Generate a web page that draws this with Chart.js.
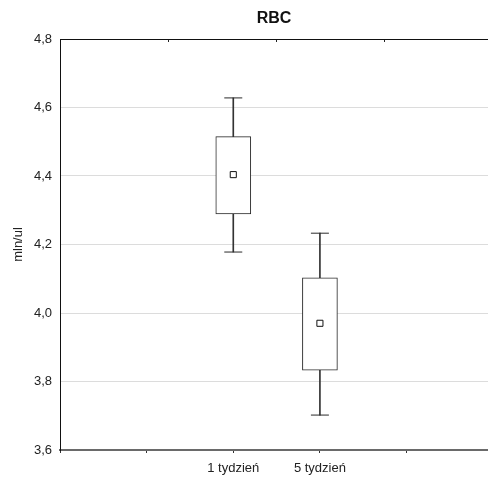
<!DOCTYPE html>
<html>
<head>
<meta charset="utf-8">
<script src="https://cdn.jsdelivr.net/npm/chart.js@4/dist/chart.umd.min.js"></script>
<style>
  html, body { margin: 0; padding: 0; background: #ffffff; }
  #wrap { width: 488px; height: 478px; }
</style>
</head>
<body>
<div id="wrap"><canvas id="c" width="488" height="478"></canvas></div>
<script>
// ---- data ----
const chartTitle = 'RBC';
const yAxisTitle = 'mln/ul';
const xTickLabels = ['', '', '1 tydzień', '5 tydzień', ''];
const categories = ['1 tydzień', '5 tydzień'];
const whiskerHigh = [4.628, 4.233];
const boxHigh = [4.515, 4.103];
const means = [4.404, 3.970];
const boxLow = [4.289, 3.833];
const whiskerLow = [4.178, 3.702];
const yTicks = [3.6, 3.8, 4.0, 4.2, 4.4, 4.6, 4.8];
const topTicks = [1.25, 2.5, 3.75];

const xPos = categories.map(c => xTickLabels.indexOf(c));
const FONT = "'Liberation Sans', Arial, sans-serif";
const INK = '#222222';

const boxData = xPos.map((x, i) => ({ x: x, y: [boxLow[i], boxHigh[i]] }));
const upperWhisker = xPos.map((x, i) => ({ x: x, y: [boxHigh[i], whiskerHigh[i]] }));
const lowerWhisker = xPos.map((x, i) => ({ x: x, y: [whiskerLow[i], boxLow[i]] }));
const caps = xPos.flatMap((x, i) => [{ x: x, y: whiskerHigh[i] }, { x: x, y: whiskerLow[i] }]);
const meanPts = xPos.map((x, i) => ({ x: x, y: means[i] }));

const xMax = 4.94;

new Chart(document.getElementById('c'), {
  data: {
    datasets: [
      { type: 'bar', data: upperWhisker, grouped: false, barThickness: 1, backgroundColor: '#333333', borderWidth: 0, order: 3 },
      { type: 'bar', data: lowerWhisker, grouped: false, barThickness: 1, backgroundColor: '#333333', borderWidth: 0, order: 3 },
      { type: 'bar', data: boxData, grouped: false, barThickness: 35, backgroundColor: '#ffffff', borderColor: '#2a2a2a', borderWidth: 1, borderSkipped: false, order: 2 },
      { type: 'scatter', data: caps, pointStyle: 'line', pointRadius: 9, pointBorderColor: '#2a2a2a', pointBorderWidth: 1, order: 1 },
      { type: 'scatter', data: meanPts, pointStyle: 'rect', pointRadius: 4.3, pointBackgroundColor: '#ffffff', pointBorderColor: '#111111', pointBorderWidth: 1, order: 0 }
    ]
  },
  options: {
    responsive: false,
    animation: false,
    layout: { padding: 0, autoPadding: false },
    plugins: { legend: { display: false }, tooltip: { enabled: false }, title: { display: false } },
    scales: {
      x: {
        type: 'linear',
        position: 'bottom',
        offset: false,
        min: 0,
        max: xMax,
        afterBuildTicks: s => { s.ticks = xTickLabels.map((_, i) => ({ value: i })); },
        afterFit: s => { s.height = 28; },
        grid: { display: true, offset: false, drawOnChartArea: false, drawTicks: true, tickLength: 3, color: '#333333' },
        border: { display: true, color: '#6a6a6a', width: 2 },
        ticks: {
          padding: 8,
          autoSkip: false,
          maxRotation: 0,
          color: INK,
          font: { family: FONT, size: 13 },
          callback: v => xTickLabels[Math.round(v)] || ''
        }
      },
      xTop: {
        type: 'linear',
        position: 'top',
        offset: false,
        min: 0,
        max: xMax,
        afterBuildTicks: s => { s.ticks = topTicks.map(v => ({ value: v })); },
        afterFit: s => { s.height = 39; },
        grid: { display: true, offset: false, drawOnChartArea: false, drawTicks: true, tickLength: -3, color: '#222222' },
        border: { display: true, color: '#111111', width: 1 },
        ticks: { display: false },
        title: { display: true, text: chartTitle, color: '#111111', font: { family: FONT, size: 16, weight: 'bold' }, padding: { top: 9, bottom: 0 } }
      },
      y: {
        type: 'linear',
        position: 'left',
        min: 3.6,
        max: 4.8,
        afterBuildTicks: s => { s.ticks = yTicks.map(v => ({ value: v })); },
        afterFit: s => { s.width = 60; },
        grid: { display: true, drawTicks: false, color: '#dcdcdc', lineWidth: 1 },
        border: { display: true, color: '#111111', width: 1 },
        ticks: {
          padding: 8,
          color: INK,
          font: { family: FONT, size: 13 },
          callback: v => Number(v).toFixed(1).replace('.', ',')
        },
        title: { display: true, text: yAxisTitle, color: INK, font: { family: FONT, size: 13 }, padding: { top: 11, bottom: 0 } }
      }
    }
  }
});
</script>
</body>
</html>
